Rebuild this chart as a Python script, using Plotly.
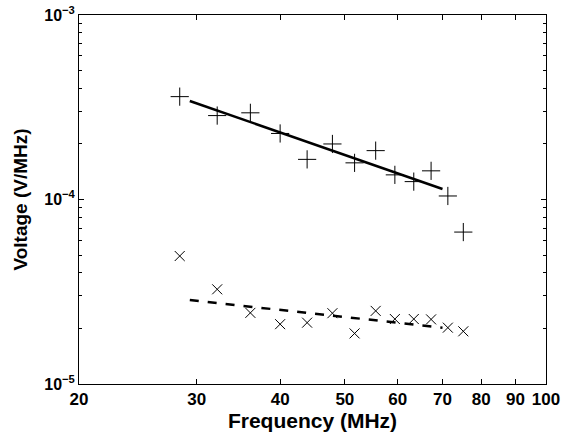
"""Log-log voltage spectrum with power-law fits (Plotly)."""
import plotly.graph_objects as go

# ---- data ----
freq_plus = [28.3, 32.2, 36.1, 40.0, 43.9, 47.9, 51.7, 55.6, 59.4, 63.4, 67.3, 71.3, 75.2]
volt_plus = [3.61e-4, 2.85e-4, 2.95e-4, 2.28e-4, 1.65e-4, 2.0e-4, 1.58e-4, 1.84e-4,
             1.36e-4, 1.25e-4, 1.43e-4, 1.045e-4, 6.66e-5]

freq_cross = [28.3, 32.2, 36.1, 40.0, 43.9, 47.9, 51.7, 55.6, 59.4, 63.4, 67.3, 71.3, 75.2]
volt_cross = [4.94e-5, 3.26e-5, 2.43e-5, 2.11e-5, 2.15e-5, 2.42e-5, 1.88e-5, 2.49e-5,
              2.25e-5, 2.25e-5, 2.24e-5, 2.02e-5, 1.93e-5]

fit_freq = [29.3, 70.0]
fit_plus = [3.42e-4, 1.14e-4]
fit_cross = [2.85e-5, 2.02e-5]

x_ticks = [20, 30, 40, 50, 60, 70, 80, 90, 100]
y_ticks = [1e-5, 1e-4, 1e-3]
y_tick_text = ["10<sup>\u22125</sup>", "10<sup>\u22124</sup>", "10<sup>\u22123</sup>"]
y_minor = [m * 10.0 ** e for e in (-5, -4) for m in range(2, 10)]

FONT = "Liberation Sans"

fig = go.Figure()
fig.add_trace(go.Scatter(
    x=freq_plus, y=volt_plus, mode="markers",
    marker=dict(symbol="cross-thin-open", size=13, color="black",
                line=dict(color="black", width=1)),
))
fig.add_trace(go.Scatter(
    x=freq_cross, y=volt_cross, mode="markers",
    marker=dict(symbol="x-thin-open", size=10, color="black",
                line=dict(color="black", width=1)),
))
fig.add_trace(go.Scatter(
    x=fit_freq, y=fit_plus, mode="lines",
    line=dict(color="black", width=2.5),
))
fig.add_trace(go.Scatter(
    x=fit_freq, y=fit_cross, mode="lines",
    line=dict(color="black", width=2.5, dash="dash"),
))

fig.update_xaxes(
    type="log", range=[1.30103, 2], tickvals=x_ticks, ticktext=[str(v) for v in x_ticks],
    ticks="inside", ticklen=5, tickcolor="black", mirror="ticks",
    automargin=False, ticklabeloverflow="allow",
    showline=True, linecolor="black", linewidth=1, showgrid=False, zeroline=False,
    tickfont=dict(family=FONT, size=17, color="black", weight="bold"),
    title=dict(text="Frequency (MHz)", standoff=4,
               font=dict(family=FONT, size=21, color="black", weight="bold")),
)
fig.update_yaxes(
    type="log", range=[-5, -3], tickvals=y_ticks, ticktext=y_tick_text,
    ticks="inside", ticklen=5, tickcolor="black", mirror="ticks",
    automargin=False, ticklabeloverflow="allow",
    minor=dict(tickvals=y_minor, ticks="inside", ticklen=3, tickcolor="black", showgrid=False),
    showline=True, linecolor="black", linewidth=1, showgrid=False, zeroline=False,
    tickfont=dict(family=FONT, size=16, color="black", weight="bold"),
    title=dict(text="Voltage (V/MHz)", standoff=11,
               font=dict(family=FONT, size=19, color="black", weight="bold")),
)
fig.update_layout(
    width=563, height=440, showlegend=False,
    paper_bgcolor="white", plot_bgcolor="white",
    margin=dict(l=79, r=17, t=15, b=56),
)
# drop the page's default body margin so the figure sits at the window's corner
fig.write_html("out.html", config={"displayModeBar": False},
               post_script="document.body.style.margin='0';")
